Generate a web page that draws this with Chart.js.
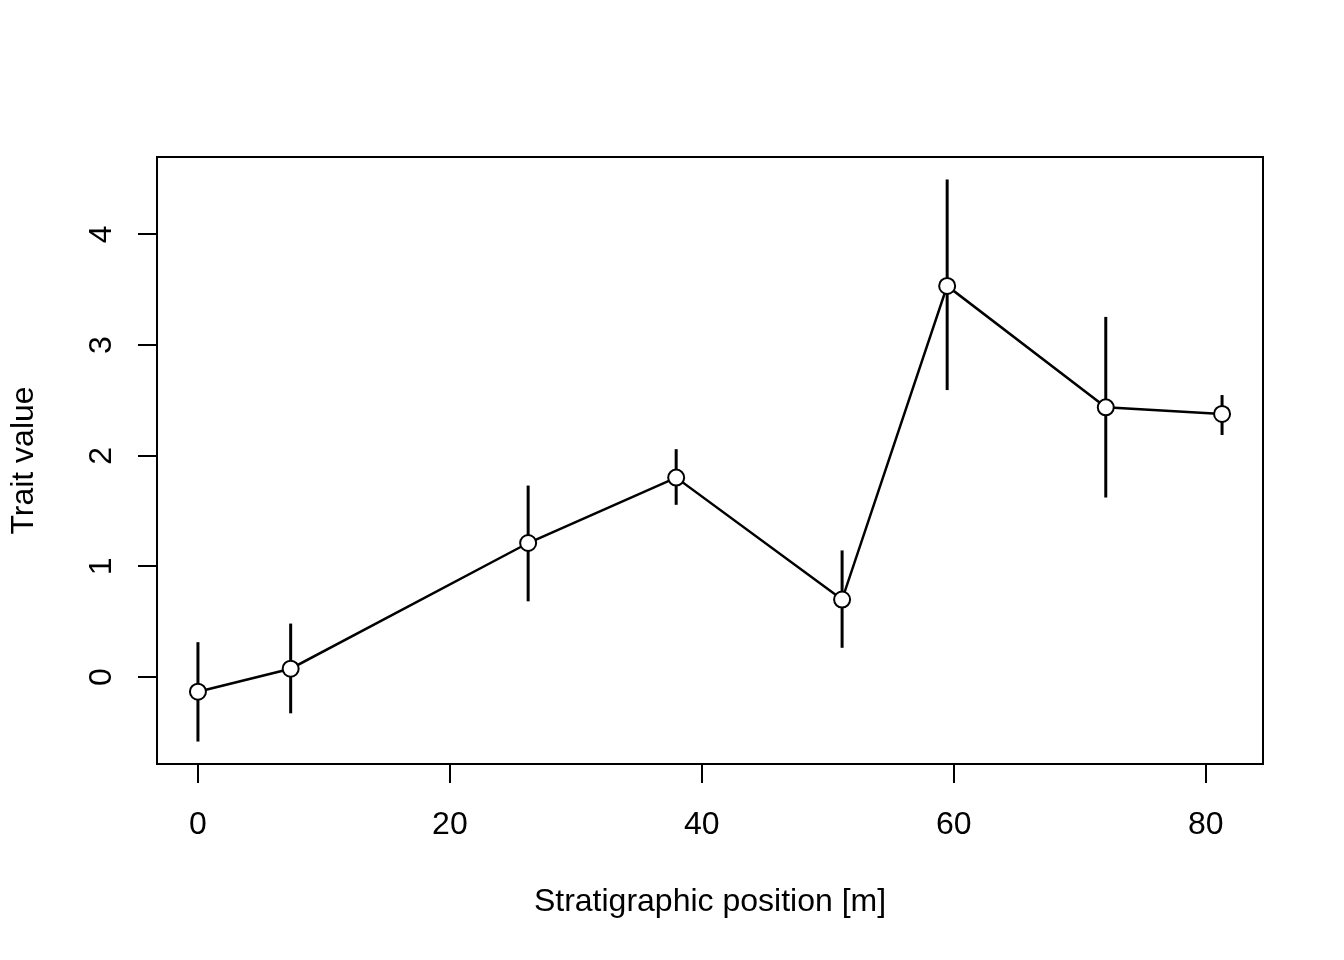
<!DOCTYPE html>
<html>
<head>
<meta charset="utf-8">
<title>Trait value by stratigraphic position</title>
<script src="https://cdn.jsdelivr.net/npm/chart.js@4"></script>
<style>
  html, body { margin: 0; padding: 0; background: #fff; }
</style>
</head>
<body>
<canvas id="traitChart" width="1344" height="960"></canvas>
<script>
// Data
const positions = [0, 7.36, 26.21, 37.96, 51.13, 59.47, 72.06, 81.29];
const traitMeans = [-0.132, 0.076, 1.212, 1.803, 0.701, 3.535, 2.438, 2.378];
const upperBounds = [0.316, 0.484, 1.731, 2.060, 1.145, 4.497, 3.255, 2.549];
const lowerBounds = [-0.582, -0.327, 0.685, 1.557, 0.265, 2.594, 1.623, 2.188];
const xTickValues = [0, 20, 40, 60, 80];
const yTickValues = [0, 1, 2, 3, 4];

const labelFont = { family: "'Liberation Sans', Arial, sans-serif", size: 32 };

// vertical error bars, drawn under the line and points
const errorBars = {
  id: 'errorBars',
  beforeDatasetsDraw(chart) {
    const { ctx, scales: { x, y } } = chart;
    ctx.save();
    ctx.strokeStyle = '#000';
    ctx.lineWidth = 3;
    positions.forEach((p, i) => {
      const px = x.getPixelForValue(p);
      ctx.beginPath();
      ctx.moveTo(px, y.getPixelForValue(lowerBounds[i]));
      ctx.lineTo(px, y.getPixelForValue(upperBounds[i]));
      ctx.stroke();
    });
    ctx.restore();
  },
};

// box round the plot region
const plotBox = {
  id: 'plotBox',
  afterDraw(chart) {
    const { ctx, chartArea: a } = chart;
    ctx.save();
    ctx.strokeStyle = '#000';
    ctx.lineWidth = 2;
    ctx.strokeRect(a.left, a.top, a.right - a.left, a.bottom - a.top);
    ctx.restore();
  },
};

const ctx = document.getElementById('traitChart').getContext('2d');
new Chart(ctx, {
  type: 'scatter',
  data: {
    datasets: [{
      label: 'Trait value',
      data: positions.map((p, i) => ({ x: p, y: traitMeans[i] })),
      showLine: true,
      borderColor: '#000',
      borderWidth: 2.5,
      tension: 0,
      pointRadius: 8,
      pointBorderWidth: 2,
      pointBorderColor: '#000',
      pointBackgroundColor: '#fff',
    }],
  },
  options: {
    responsive: false,
    animation: false,
    layout: { padding: { top: 157, right: 81, left: 0, bottom: 0 } },
    plugins: {
      legend: { display: false },
      tooltip: { enabled: false },
    },
    scales: {
      x: {
        type: 'linear',
        min: -3.25,
        max: 84.54,
        afterBuildTicks: (s) => { s.ticks = xTickValues.map(v => ({ value: v })); },
        afterFit: (s) => { s.height = 196; },
        border: { display: false },
        grid: { drawOnChartArea: false, drawTicks: true, tickLength: 19, color: '#000', lineWidth: 2 },
        ticks: { color: '#000', font: labelFont, padding: 23, maxRotation: 0 },
        title: {
          display: true,
          text: 'Stratigraphic position [m]',
          color: '#000',
          font: labelFont,
          padding: { top: 0, bottom: 39 },
        },
      },
      y: {
        type: 'linear',
        min: -0.785,
        max: 4.70,
        afterBuildTicks: (s) => { s.ticks = yTickValues.map(v => ({ value: v })); },
        afterFit: (s) => { s.width = 157; },
        border: { display: false },
        grid: { drawOnChartArea: false, drawTicks: true, tickLength: 19, color: '#000', lineWidth: 2 },
        ticks: { color: '#000', font: labelFont, padding: 27, minRotation: 90, maxRotation: 90, crossAlign: 'center' },
        title: {
          display: true,
          text: 'Trait value',
          color: '#000',
          font: labelFont,
          padding: { top: 5, bottom: 0 },
        },
      },
    },
  },
  plugins: [errorBars, plotBox],
});
</script>
</body>
</html>
